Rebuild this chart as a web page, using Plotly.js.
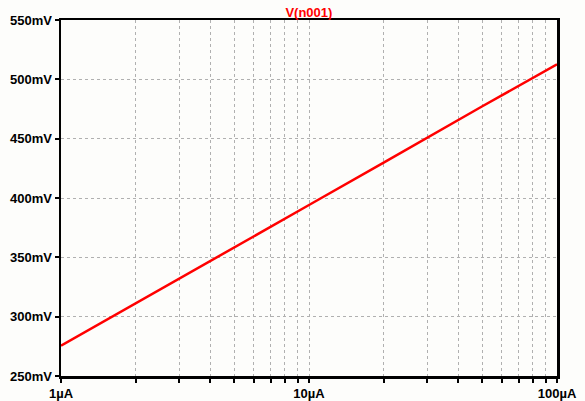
<!DOCTYPE html>
<html>
<head>
<meta charset="utf-8">
<script src="https://cdn.plot.ly/plotly-3.0.1.min.js"></script>
<style>html,body{margin:0;padding:0;background:#fdfdfb;}#chart{width:585px;height:401px;}</style>
</head>
<body>
<div id="chart"></div>
<script>
// Data (current in A, voltage in mV)
const currentA = [1e-6, 2e-6, 3e-6, 4e-6, 5e-6, 10e-6, 20e-6, 30e-6, 50e-6, 100e-6];
const voltage_mV = [275.5, 311.4, 332.2, 347.0, 358.4, 394.1, 429.8, 451.0, 477.3, 512.7];
const seriesName = "V(n001)";
const xTickVals = [1e-6, 1e-5, 1e-4];
const xTickText = ["1µA", "10µA", "100µA"];
const xMinorVals = [2e-6,3e-6,4e-6,5e-6,6e-6,7e-6,8e-6,9e-6,2e-5,3e-5,4e-5,5e-5,6e-5,7e-5,8e-5,9e-5];
const yTickVals = [250, 300, 350, 400, 450, 500, 550];
const yTickText = ["250mV", "300mV", "350mV", "400mV", "450mV", "500mV", "550mV"];

const font = {family: "Liberation Sans, Arial, sans-serif", size: 13, color: "#000", weight: "bold"};

Plotly.newPlot("chart", [{
  x: currentA, y: voltage_mV, type: "scatter", mode: "lines",
  line: {color: "#ff0000", width: 2.5}, name: seriesName, hoverinfo: "skip"
}], {
  width: 585, height: 401,
  margin: {l: 61, r: 28, t: 20, b: 25, pad: 0},
  paper_bgcolor: "#fdfdfb", plot_bgcolor: "#fdfdfb",
  showlegend: false,
  title: {text: "<b>" + seriesName + "</b>", font: {family: font.family, size: 13, color: "#ff0000", weight: "bold"},
          x: 0.528, xanchor: "center", y: 0.97, yanchor: "middle"},
  xaxis: {
    type: "log", range: [-6, -4],
    tickmode: "array", tickvals: xTickVals, ticktext: xTickText.map(t => "<b>" + t + "</b>"),
    tickfont: font, ticks: "outside", ticklen: 4, tickwidth: 2, tickcolor: "#000",
    showline: true, linecolor: "#000", linewidth: 2.5, mirror: true,
    showgrid: true, gridcolor: "#b0b0b0", griddash: "dot", gridwidth: 1,
    minor: {tickmode: "array", tickvals: xMinorVals, ticks: "outside", ticklen: 4, tickwidth: 2,
            tickcolor: "#000", showgrid: true, gridcolor: "#b0b0b0", griddash: "dot", gridwidth: 1},
    zeroline: false, fixedrange: true
  },
  yaxis: {
    range: [250, 550],
    tickmode: "array", tickvals: yTickVals, ticktext: yTickText.map(t => "<b>" + t + "</b>"),
    tickfont: font, ticks: "outside", ticklen: 4, tickwidth: 2, tickcolor: "#000",
    showline: true, linecolor: "#000", linewidth: 2.5, mirror: true,
    showgrid: true, gridcolor: "#b0b0b0", griddash: "dot", gridwidth: 1,
    zeroline: false, fixedrange: true
  }
}, {displayModeBar: false, staticPlot: true});
</script>
</body>
</html>
